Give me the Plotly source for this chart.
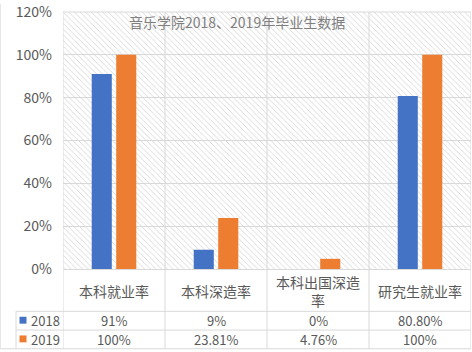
import plotly.graph_objects as go

categories = ["本科就业率", "本科深造率", "本科出国深造率", "研究生就业率"]
category_labels = ["本科就业率", "本科深造率", "本科出国深造<br>率", "研究生就业率"]
series_names = ["2018", "2019"]
values_2018 = [91, 9, 0, 80.8]
values_2019 = [100, 23.81, 4.76, 100]
table_2018 = ["91%", "9%", "0%", "80.80%"]
table_2019 = ["100%", "23.81%", "4.76%", "100%"]
title_text = "音乐学院2018、2019年毕业生数据"
y_ticks = [0, 20, 40, 60, 80, 100, 120]
y_ticktext = ["0%", "20%", "40%", "60%", "80%", "100%", "120%"]

BLUE = "#4472C4"
ORANGE = "#ED7D31"
GRID = "#d9d9d9"
TXT = "#595959"
FONT = "Noto Sans CJK SC"

W, H = 472, 352
L, R, T, B = 63, 1, 8, 83
pw = W - L - R
ph = H - T - B


def px_y(Y):
    return (H - B - Y) / ph


def px_x(X):
    return (X - L) / pw


fig = go.Figure()

# hatched plot background
fig.add_trace(go.Bar(
    x=[categories[0]], y=[120], base=[0], width=[4], offset=[-0.5],
    marker=dict(color="rgba(0,0,0,0)", line=dict(width=0),
                pattern=dict(shape="\\", size=4, solidity=0.22, fgcolor="#d6d6d6",
                             bgcolor="rgba(0,0,0,0)", fillmode="replace")),
    hoverinfo="skip", showlegend=False,
))

fig.add_trace(go.Bar(x=categories, y=values_2018, name=series_names[0],
                     marker=dict(color=BLUE, line=dict(width=0)), showlegend=False))
fig.add_trace(go.Bar(x=categories, y=values_2019, name=series_names[1],
                     marker=dict(color=ORANGE, line=dict(width=0)), showlegend=False))

shapes = []
line = dict(color=GRID, width=1)
# vertical category boundaries through table
for xv in [-0.5, 0.5, 1.5, 2.5, 3.5]:
    shapes.append(dict(type="line", xref="x", yref="paper", x0=xv, x1=xv,
                       y0=1, y1=px_y(350), line=line))
# top border of plot
shapes.append(dict(type="line", xref="paper", yref="paper", x0=0, x1=1,
                   y0=1, y1=1, line=line))
# horizontal table lines
for Y in [312, 331]:
    shapes.append(dict(type="line", xref="paper", yref="paper", x0=px_x(16), x1=1,
                       y0=px_y(Y), y1=px_y(Y), line=line))
shapes.append(dict(type="line", xref="paper", yref="paper", x0=px_x(0), x1=1,
                   y0=px_y(350), y1=px_y(350), line=line))
shapes.append(dict(type="line", xref="paper", yref="paper", x0=px_x(16), x1=px_x(16),
                   y0=px_y(312), y1=px_y(350), line=line))
# outer left border
shapes.append(dict(type="line", xref="paper", yref="paper", x0=px_x(0.5), x1=px_x(0.5),
                   y0=px_y(0), y1=px_y(350), line=dict(color="#e6e6e6", width=1)))
# legend keys
for Yc, col in [(321, BLUE), (340, ORANGE)]:
    shapes.append(dict(type="rect", xref="paper", yref="paper",
                       x0=px_x(19.5), x1=px_x(26.5), y0=px_y(Yc - 3.5), y1=px_y(Yc + 3.5),
                       fillcolor=col, line=dict(width=0)))

annotations = []
annotations.append(dict(text=title_text, xref="paper", yref="paper", x=px_x(237), y=px_y(18),
                        showarrow=False, font=dict(size=14, color="#7f7f7f", family=FONT),
                        xanchor="center", yanchor="middle"))
for i, c in enumerate(categories):
    annotations.append(dict(text=category_labels[i], xref="x", yref="paper", x=c, y=px_y(291),
                            showarrow=False, font=dict(size=14, color=TXT, family=FONT),
                            xanchor="center", yanchor="middle"))
    annotations.append(dict(text=table_2018[i], xref="x", yref="paper", x=c, y=px_y(321.5),
                            showarrow=False, font=dict(size=13, color=TXT, family=FONT),
                            xanchor="center", yanchor="middle"))
    annotations.append(dict(text=table_2019[i], xref="x", yref="paper", x=c, y=px_y(340.5),
                            showarrow=False, font=dict(size=13, color=TXT, family=FONT),
                            xanchor="center", yanchor="middle"))
for name, Yc in zip(series_names, [321.5, 340.5]):
    annotations.append(dict(text=name, xref="paper", yref="paper", x=px_x(29), y=px_y(Yc),
                            showarrow=False, font=dict(size=13, color=TXT, family=FONT),
                            xanchor="left", yanchor="middle"))

fig.update_layout(
    width=W, height=H,
    margin=dict(l=L, r=R, t=T, b=B, pad=0),
    paper_bgcolor="white", plot_bgcolor="white",
    barmode="group", bargap=0.52, bargroupgap=0.18,
    showlegend=False,
    font=dict(family=FONT, color=TXT),
    xaxis=dict(showticklabels=False, showgrid=False, zeroline=False,
               showline=True, linecolor=GRID, linewidth=1, ticks="",
               range=[-0.5, 3.5], fixedrange=True),
    yaxis=dict(range=[0, 120], tickvals=y_ticks, ticktext=y_ticktext,
               showgrid=True, gridcolor=GRID, gridwidth=1, zeroline=False,
               showline=False, ticks="", ticklabelstandoff=10,
               ticklabeloverflow="allow",
               tickfont=dict(size=14, color=TXT, family=FONT), fixedrange=True),
    shapes=shapes, annotations=annotations,
)

fig.write_html("out.html")
